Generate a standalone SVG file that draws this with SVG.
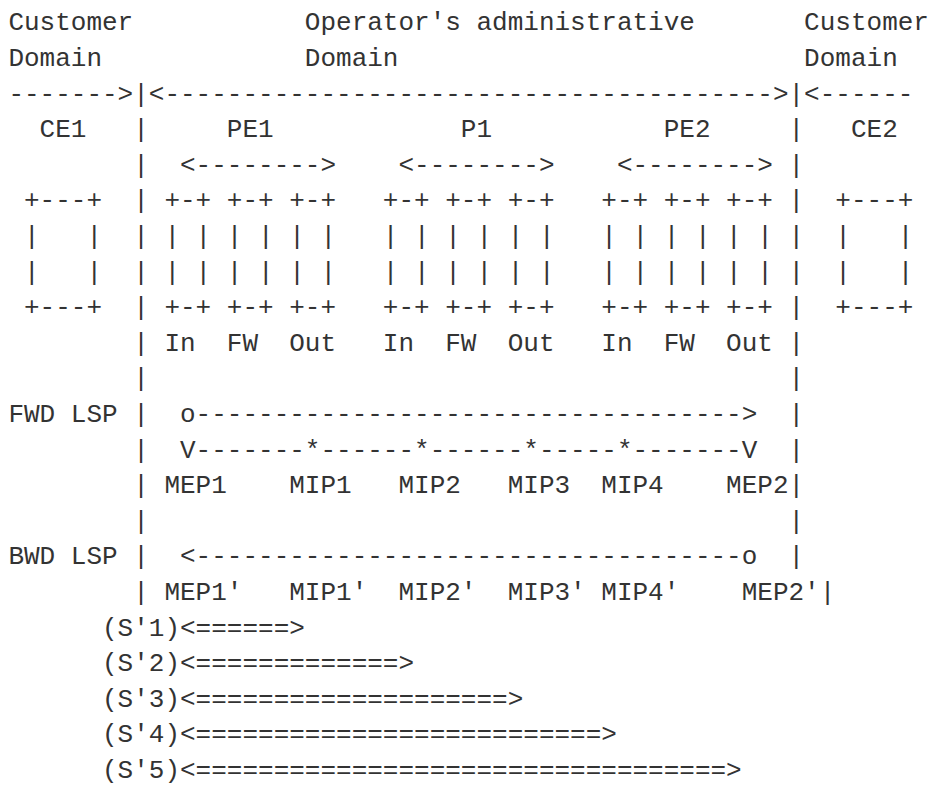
<svg xmlns="http://www.w3.org/2000/svg" width="930" height="785" viewBox="0 0 930 785">
<style>
text { font-family: "Liberation Mono", "DejaVu Sans Mono", monospace; font-size: 26px; fill: #333333; white-space: pre; }
</style>
<rect width="930" height="785" fill="#ffffff"/>
<g id="domains" xml:space="preserve">
<text x="8.4" y="30.3">Customer           Operator's administrative       Customer</text>
<text x="8.4" y="65.9">Domain             Domain                          Domain</text>
<text x="8.4" y="101.5">-------&gt;|&lt;---------------------------------------&gt;|&lt;------</text>
</g>
<g id="nodes" xml:space="preserve">
<text x="8.4" y="137.1">  CE1   |     PE1            P1           PE2     |   CE2</text>
<text x="8.4" y="172.7">        |  &lt;--------&gt;    &lt;--------&gt;    &lt;--------&gt; |</text>
<text x="8.4" y="208.3"> +---+  | +-+ +-+ +-+   +-+ +-+ +-+   +-+ +-+ +-+ |  +---+</text>
<text x="8.4" y="243.9"> |   |  | | | | | | |   | | | | | |   | | | | | | |  |   |</text>
<text x="8.4" y="279.5"> |   |  | | | | | | |   | | | | | |   | | | | | | |  |   |</text>
<text x="8.4" y="315.1"> +---+  | +-+ +-+ +-+   +-+ +-+ +-+   +-+ +-+ +-+ |  +---+</text>
<text x="8.4" y="350.7">        | In  FW  Out   In  FW  Out   In  FW  Out |</text>
<text x="8.4" y="386.3">        |                                         |</text>
</g>
<g id="lsps" xml:space="preserve">
<text x="8.4" y="421.9">FWD LSP |  o-----------------------------------&gt;  |</text>
<text x="8.4" y="457.5">        |  V-------*------*------*-----*-------V  |</text>
<text x="8.4" y="493.1">        | MEP1    MIP1   MIP2   MIP3  MIP4    MEP2|</text>
<text x="8.4" y="528.7">        |                                         |</text>
<text x="8.4" y="564.3">BWD LSP |  &lt;-----------------------------------o  |</text>
<text x="8.4" y="599.9">        | MEP1'   MIP1'  MIP2'  MIP3' MIP4'    MEP2'|</text>
</g>
<g id="segments" xml:space="preserve">
<text x="8.4" y="635.5">      (S'1)&lt;======&gt;</text>
<text x="8.4" y="671.1">      (S'2)&lt;=============&gt;</text>
<text x="8.4" y="706.7">      (S'3)&lt;====================&gt;</text>
<text x="8.4" y="742.3">      (S'4)&lt;==========================&gt;</text>
<text x="8.4" y="777.9">      (S'5)&lt;==================================&gt;</text>
</g>
</svg>
